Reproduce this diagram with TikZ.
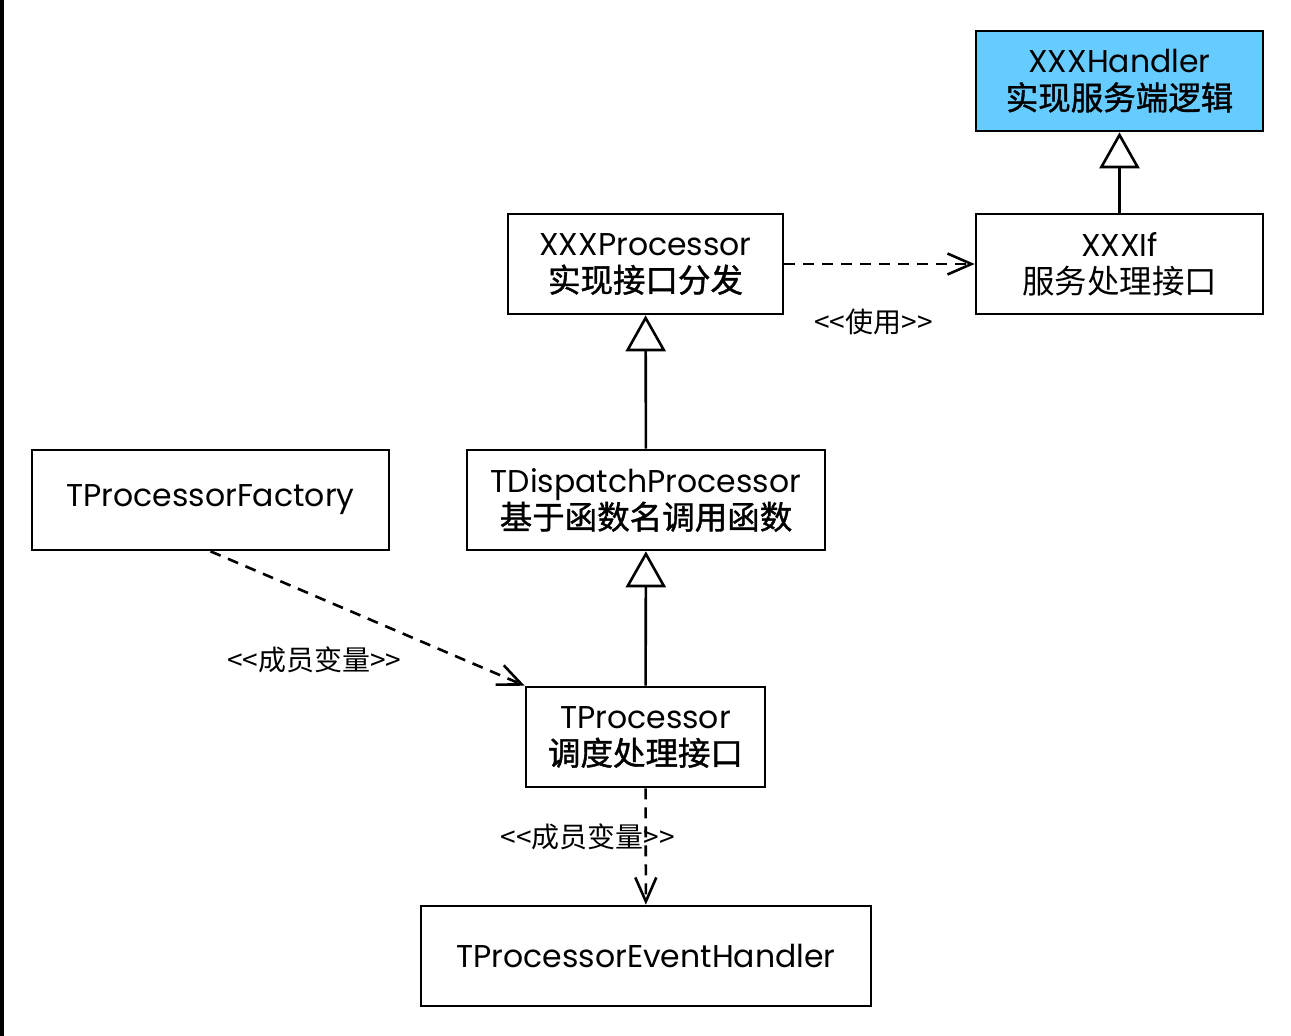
\documentclass[tikz,border=0pt]{standalone}
\usepackage{fontspec}
\setmainfont{Poppins}
\newfontfamily\cjk{Noto Sans CJK SC}
\newfontfamily\cjkb{Noto Sans CJK SC}[FakeBold=1.2]
\usetikzlibrary{arrows.meta}

\newcommand\stereo[1]{{\cjk <\kern0pt<#1>\kern0pt>}}

\tikzset{
	cls/.style={shape=rectangle,draw=black,line width=2.6pt,fill=white,align=center,
		inner sep=0pt,minimum height=100pt,font=\fontsize{31.5}{37}\selectfont},
	inh/.style={line width=2.6pt,-{Triangle[open,length=36pt,width=40pt,line width=2.6pt]}},
	dep/.style={line width=2.6pt,dash pattern=on 11pt off 8pt,
		-{Straight Barb[length=24pt,width=21pt,line width=2.6pt]}},
	lbl/.style={font=\fontsize{28}{30}\selectfont}
}

\begin{document}
\begin{tikzpicture}[x=1pt,y=-1pt]
	\useasboundingbox (0,0) rectangle (1291,1036);
	\fill[black] (0,0) rectangle (4,1036);

	\node[cls,fill={rgb,255:red,102;green,204;blue,255},minimum width=287pt] (handler) at (1119.5, 81)  {XXXHandler\\{\fontsize{32.5}{37}\cjkb 实现服务端逻辑}};
	\node[cls,minimum width=287pt] (xif)      at (1119.5, 264) {XXXIf\\{\fontsize{32.5}{37}\cjk 服务处理接口}};
	\node[cls,minimum width=275pt] (xproc)    at (645.5, 264)  {XXXProcessor\\{\fontsize{32.5}{37}\cjkb 实现接口分发}};
	\node[cls,minimum width=358pt] (dispatch) at (646, 500)    {TDispatchProcessor\\{\fontsize{32.5}{37}\cjkb 基于函数名调用函数}};
	\node[cls,minimum width=357pt] (factory)  at (210.5, 500)  {TProcessorFactory};
	\node[cls,minimum width=239pt] (tproc)    at (645.5, 737)  {TProcessor\\{\fontsize{32.5}{37}\cjkb 调度处理接口}};
	\node[cls,minimum width=450pt] (evh)      at (646, 956)    {TProcessorEventHandler};

	\draw[inh] (xif) -- (handler);
	\draw[inh] (dispatch) -- (xproc);
	\draw[inh] (tproc) -- (dispatch);

	\path[dep] (xproc) edge node[lbl,below=40pt,xshift=-6pt]{\stereo{使用}} (xif);
	\path[dep] (factory.south) edge node[lbl,pos=0.33,yshift=-64pt]{\stereo{成员变量}} (tproc.north west);
	\path[dep] (tproc) edge node[lbl,xshift=-58pt,yshift=10pt]{\stereo{成员变量}} (evh);
\end{tikzpicture}
\end{document}
